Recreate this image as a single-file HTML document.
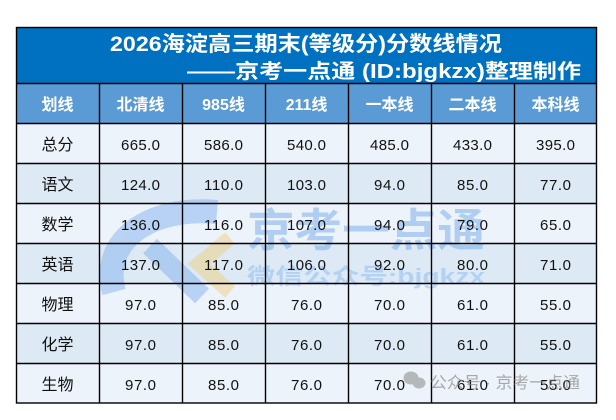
<!DOCTYPE html>
<html>
<head>
<meta charset="utf-8">
<style>
html,body{margin:0;padding:0;background:#fff;}
body{width:616px;height:420px;overflow:hidden;}
svg{display:block;}
.t{font-family:"Liberation Sans","Noto Sans CJK SC",sans-serif;}
</style>
</head>
<body>
<svg width="616" height="420" viewBox="0 0 616 420" xmlns="http://www.w3.org/2000/svg">
  <rect x="0" y="0" width="616" height="420" fill="#ffffff"/>
  <!-- title bar -->
  <rect x="16" y="27" width="581" height="56" fill="#0070C0"/>
  <!-- header -->
  <rect x="16" y="83" width="581" height="40" fill="#5B9BD5"/>
  <!-- rows -->
  <rect x="16" y="123" width="581" height="40" fill="#EDF3FA"/>
  <rect x="16" y="163" width="581" height="40" fill="#DDEAF6"/>
  <rect x="16" y="203" width="581" height="40" fill="#EDF3FA"/>
  <rect x="16" y="243" width="581" height="40" fill="#DDEAF6"/>
  <rect x="16" y="283" width="581" height="40" fill="#EDF3FA"/>
  <rect x="16" y="323" width="581" height="40" fill="#DDEAF6"/>
  <rect x="16" y="363" width="581" height="40" fill="#EDF3FA"/>

  <!-- watermark logo -->
  <g opacity="0.42" fill="none">
    <path d="M217,212 C150,206 100,240 114,292" stroke="#6FA6EC" stroke-width="24"/>
    <path d="M150,246 L202,296" stroke="#6FA6EC" stroke-width="20"/>
    <polyline points="230,238 199,264 230,292" stroke="#F2C96A" stroke-width="15"/>
  </g>
  <text class="t" x="247" y="246" font-size="45" font-weight="bold" fill="#5A9BE8" fill-opacity="0.42" textLength="238" lengthAdjust="spacingAndGlyphs">京考一点通</text>
  <text class="t" x="247" y="284" font-size="22" font-weight="bold" fill="#5A9BE8" fill-opacity="0.32" textLength="238" lengthAdjust="spacingAndGlyphs">微信公众号:bjgkzx</text>

  <!-- grid lines -->
  <g stroke="#000" stroke-width="1.4" fill="none">
    <rect x="16.5" y="27.5" width="580" height="375.5"/>
    <line x1="16" y1="83.5" x2="597" y2="83.5"/>
    <line x1="16" y1="123.5" x2="597" y2="123.5"/>
    <line x1="16" y1="163.5" x2="597" y2="163.5"/>
    <line x1="16" y1="203.5" x2="597" y2="203.5"/>
    <line x1="16" y1="243.5" x2="597" y2="243.5"/>
    <line x1="16" y1="283.5" x2="597" y2="283.5"/>
    <line x1="16" y1="323.5" x2="597" y2="323.5"/>
    <line x1="16" y1="363.5" x2="597" y2="363.5"/>
    <line x1="99.5" y1="83" x2="99.5" y2="403"/>
    <line x1="182.5" y1="83" x2="182.5" y2="403"/>
    <line x1="265.5" y1="83" x2="265.5" y2="403"/>
    <line x1="348.5" y1="83" x2="348.5" y2="403"/>
    <line x1="431.5" y1="83" x2="431.5" y2="403"/>
    <line x1="514.5" y1="83" x2="514.5" y2="403"/>
  </g>

  <!-- title -->
  <text class="t" x="110" y="51" font-size="21" font-weight="bold" fill="#fff" textLength="392" lengthAdjust="spacingAndGlyphs">2026海淀高三期末(等级分)分数线情况</text>
  <text class="t" x="187" y="78" font-size="20" font-weight="bold" fill="#fff" textLength="394" lengthAdjust="spacingAndGlyphs">——京考一点通 (ID:bjgkzx)整理制作</text>

  <!-- header text -->
  <g class="t" font-size="16" font-weight="bold" fill="#fff" text-anchor="middle">
    <text x="57.5" y="110">划线</text>
    <text x="140.5" y="110">北清线</text>
    <text x="223.5" y="110">985线</text>
    <text x="306.5" y="110">211线</text>
    <text x="389.5" y="110">一本线</text>
    <text x="472.5" y="110">二本线</text>
    <text x="555.5" y="110">本科线</text>
  </g>

  <!-- row labels -->
  <g class="t" font-size="16" fill="#111" text-anchor="middle">
    <text x="57.5" y="150">总分</text>
    <text x="57.5" y="190">语文</text>
    <text x="57.5" y="230">数学</text>
    <text x="57.5" y="270">英语</text>
    <text x="57.5" y="310">物理</text>
    <text x="57.5" y="350">化学</text>
    <text x="57.5" y="390">生物</text>
  </g>

  <!-- numbers -->
  <g class="t" font-size="15" fill="#111" text-anchor="middle" lengthAdjust="spacing">
    <text x="140.5" y="150" textLength="39">665.0</text>
    <text x="223.5" y="150" textLength="39">586.0</text>
    <text x="306.5" y="150" textLength="39">540.0</text>
    <text x="389.5" y="150" textLength="39">485.0</text>
    <text x="472.5" y="150" textLength="39">433.0</text>
    <text x="555.5" y="150" textLength="39">395.0</text>

    <text x="140.5" y="190" textLength="39">124.0</text>
    <text x="223.5" y="190" textLength="39">110.0</text>
    <text x="306.5" y="190" textLength="39">103.0</text>
    <text x="389.5" y="190" textLength="31">94.0</text>
    <text x="472.5" y="190" textLength="31">85.0</text>
    <text x="555.5" y="190" textLength="31">77.0</text>

    <text x="140.5" y="230" textLength="39">136.0</text>
    <text x="223.5" y="230" textLength="39">116.0</text>
    <text x="306.5" y="230" textLength="39">107.0</text>
    <text x="389.5" y="230" textLength="31">94.0</text>
    <text x="472.5" y="230" textLength="31">79.0</text>
    <text x="555.5" y="230" textLength="31">65.0</text>

    <text x="140.5" y="270" textLength="39">137.0</text>
    <text x="223.5" y="270" textLength="39">117.0</text>
    <text x="306.5" y="270" textLength="39">106.0</text>
    <text x="389.5" y="270" textLength="31">92.0</text>
    <text x="472.5" y="270" textLength="31">80.0</text>
    <text x="555.5" y="270" textLength="31">71.0</text>

    <text x="140.5" y="310" textLength="31">97.0</text>
    <text x="223.5" y="310" textLength="31">85.0</text>
    <text x="306.5" y="310" textLength="31">76.0</text>
    <text x="389.5" y="310" textLength="31">70.0</text>
    <text x="472.5" y="310" textLength="31">61.0</text>
    <text x="555.5" y="310" textLength="31">55.0</text>

    <text x="140.5" y="350" textLength="31">97.0</text>
    <text x="223.5" y="350" textLength="31">85.0</text>
    <text x="306.5" y="350" textLength="31">76.0</text>
    <text x="389.5" y="350" textLength="31">70.0</text>
    <text x="472.5" y="350" textLength="31">61.0</text>
    <text x="555.5" y="350" textLength="31">55.0</text>

    <text x="140.5" y="390" textLength="31">97.0</text>
    <text x="223.5" y="390" textLength="31">85.0</text>
    <text x="306.5" y="390" textLength="31">76.0</text>
    <text x="389.5" y="390" textLength="31">70.0</text>
    <text x="472.5" y="390" textLength="31">61.0</text>
    <text x="555.5" y="390" textLength="31">55.0</text>
  </g>

  <!-- bottom-right watermark -->
  <g opacity="0.55">
    <ellipse cx="411" cy="378" rx="7.5" ry="6.5" fill="#888"/>
    <ellipse cx="419" cy="383" rx="6.5" ry="5.5" fill="#888"/>
  </g>
  <text class="t" x="430" y="388" font-size="16" fill="#888" fill-opacity="0.7" textLength="150" lengthAdjust="spacingAndGlyphs">公众号 · 京考一点通</text>
</svg>
</body>
</html>
